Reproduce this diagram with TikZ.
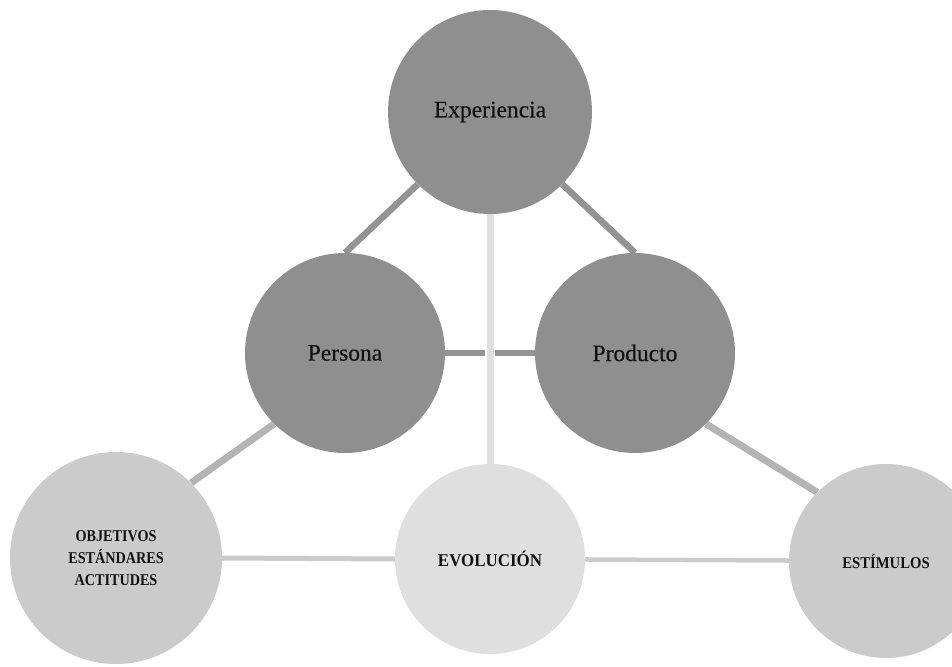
\documentclass[tikz,border=0pt]{standalone}
\usepackage{fontspec}
\setmainfont{Liberation Serif}
\newfontfamily\mixfont[FakeBold=0.4]{Liberation Serif}
\newfontfamily\capsA[FakeStretch=0.86]{Liberation Serif}
\newfontfamily\capsB[FakeStretch=0.94]{Liberation Serif}
\newfontfamily\capsC[FakeStretch=0.89]{Liberation Serif}
\usetikzlibrary{backgrounds}
\definecolor{darkc}{HTML}{8F8F8F}
\definecolor{midc}{HTML}{CBCBCB}
\definecolor{lightc}{HTML}{DFDFDF}
\definecolor{linedark}{HTML}{939393}
\definecolor{linemid}{HTML}{B4B4B4}
\definecolor{linelow}{HTML}{CBCBCB}
\definecolor{txt}{HTML}{111111}
\begin{document}
\begin{tikzpicture}[x=1pt,y=-1pt,
  bubble/.style={circle, inner sep=0pt, text=txt, align=center},
  bigbubble/.style={bubble, fill=darkc, font=\mixfont\fontsize{23.5}{26}\selectfont},
  linkdark/.style={draw=linedark, line width=6.5pt},
  linkmid/.style={draw=linemid, line width=7pt},
  linklow/.style={draw=linelow, line width=5pt},
  linkvert/.style={draw=lightc, line width=7pt}]
\useasboundingbox (0,0) rectangle (952,666);
\clip (0,0) rectangle (952,666);
\node[bigbubble, minimum size=204pt] (exp) at (490,112) {Experiencia};
\node[bigbubble, minimum size=200pt] (per) at (345,353) {Persona};
\node[bigbubble, minimum size=200pt] (pro) at (635,353) {Producto};
\node[bubble, fill=midc, minimum size=212pt, font=\capsA\bfseries\fontsize{16.5}{21.7}\selectfont] (obj) at (116,558) {OBJETIVOS\\ESTÁNDARES\\ACTITUDES};
\node[bubble, fill=lightc, minimum size=190pt, font=\capsB\bfseries\fontsize{18}{20}\selectfont] (evo) at (490,559) {EVOLUCIÓN};
\node[bubble, fill=midc, minimum size=194pt, font=\capsC\bfseries\fontsize{16.5}{18}\selectfont] (est) at (886,561) {ESTÍMULOS};
\begin{scope}[on background layer]
\fill[white] (0,0) rectangle (952,666);
\draw[linkdark] (exp.south west) -- (per.north);
\draw[linkdark] (exp.south east) -- (pro.north);
\draw[linkdark] (per.east) -- (pro.west);
\draw[white, line width=10pt] (exp.south) -- (evo.north);
\draw[linkvert] (exp.south) -- (evo.north);
\draw[linkmid] (per.south west) -- (obj.north east);
\draw[linkmid] (pro.south east) -- (est.135);
\draw[linklow] (obj.east) -- (evo.west);
\draw[linklow, line width=4.5pt] (evo) -- (est);
\end{scope}
\end{tikzpicture}
\end{document}
